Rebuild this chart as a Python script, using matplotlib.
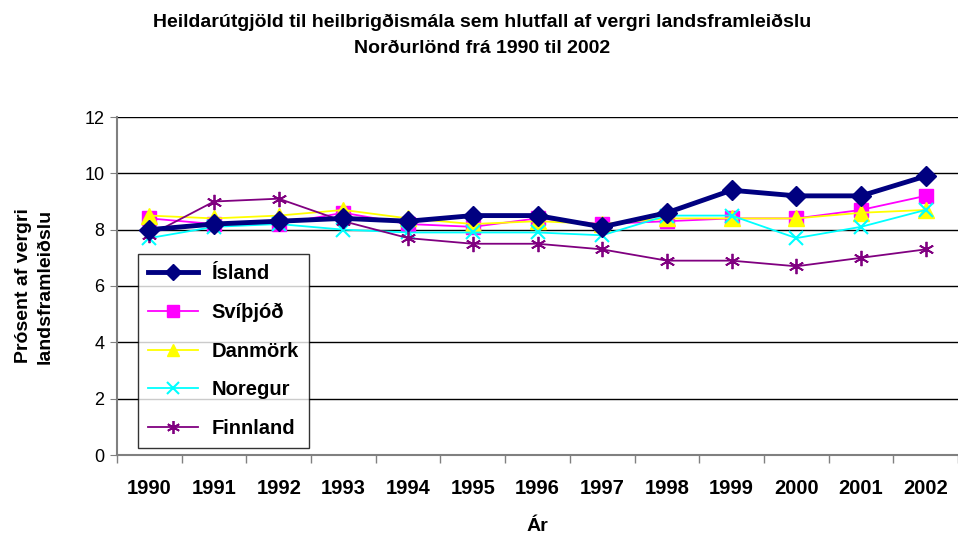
import numpy as np
import matplotlib
matplotlib.use("Agg")
import matplotlib.pyplot as plt

plt.rcParams["font.family"] = ["Liberation Sans", "DejaVu Sans"]

years = ["1990", "1991", "1992", "1993", "1994", "1995", "1996",
         "1997", "1998", "1999", "2000", "2001", "2002"]

island = [8.0, 8.2, 8.3, 8.4, 8.3, 8.5, 8.5, 8.1, 8.6, 9.4, 9.2, 9.2, 9.9]
svithjod = [8.4, 8.2, 8.2, 8.6, 8.2, 8.1, 8.4, 8.2, 8.3, 8.4, 8.4, 8.7, 9.2]
danmork = [8.5, 8.4, 8.5, 8.7, 8.4, 8.2, 8.3, 8.2, 8.4, 8.4, 8.4, 8.6, 8.7]
noregur = [7.7, 8.1, 8.2, 8.0, 7.9, 7.9, 7.9, 7.8, 8.5, 8.5, 7.7, 8.1, 8.7]
finnland = [7.8, 9.0, 9.1, 8.3, 7.7, 7.5, 7.5, 7.3, 6.9, 6.9, 6.7, 7.0, 7.3]

x = np.arange(len(years))

fig = plt.figure(figsize=(9.58, 5.37), dpi=100)
ax = fig.add_axes([117 / 958, 1 - 455 / 537, 1 - 117 / 958, 338 / 537])

ax.plot(x, island, color="#000080", lw=3.5, marker="D", ms=10, label="Ísland", zorder=6)
ax.plot(x, svithjod, color="#ff00ff", lw=1.3, marker="s", ms=10, label="Svíþjóð", zorder=5)
ax.plot(x, danmork, color="#ffff00", lw=1.3, marker="^", ms=11, label="Danmörk", zorder=5)
ax.plot(x, noregur, color="#00ffff", lw=1.3, marker="x", ms=10, mew=1.5, label="Noregur", zorder=5)
ax.plot(x, finnland, color="#800080", lw=1.3, marker=(6, 2, 0), ms=11, mew=1.3,
        label="Finnland", zorder=5)

ax.set_xlim(-0.5, len(years) - 0.5)
ax.set_ylim(0, 12)
ax.set_yticks(range(0, 13, 2))
ax.set_xticks(x)
ax.set_xticklabels(years, fontsize=14.5, fontweight="bold")
ax.set_xticks(np.arange(-0.5, len(years), 1), minor=True)
ax.tick_params(axis="x", which="major", length=0, pad=17)
ax.tick_params(axis="x", which="minor", length=6, width=1, color="#808080")
ax.tick_params(axis="y", labelsize=13, length=5, color="#808080", pad=4)
ax.yaxis.grid(True, color="black", lw=1)
ax.set_axisbelow(True)
for s in ["top", "right"]:
    ax.spines[s].set_visible(False)
for s in ["left", "bottom"]:
    ax.spines[s].set_color("#808080")
    ax.spines[s].set_linewidth(1.5)

ax.set_xlabel("Ár", fontsize=14, fontweight="bold", labelpad=15)
ax.set_ylabel("Prósent af vergri\nlandsframleiðslu", fontsize=14, fontweight="bold",
              labelpad=22, linespacing=1.4)

fig.suptitle("Heildarútgjöld til heilbrigðismála sem hlutfall af vergri landsframleiðslu\n"
             "Norðurlönd frá 1990 til 2002", fontsize=14, fontweight="bold",
             x=0.503, y=0.975, linespacing=1.75)

leg = ax.legend(loc="lower left", bbox_to_anchor=(0.025, 0.02), borderaxespad=0,
                fontsize=14.5, frameon=True, fancybox=False, edgecolor="black",
                handlelength=2.5, labelspacing=0.98, borderpad=0.5,
                handletextpad=0.65, markerscale=0.85)
leg.get_frame().set_linewidth(1)
for t in leg.get_texts():
    t.set_fontweight("bold")

fig.savefig("out.png", dpi=100)
